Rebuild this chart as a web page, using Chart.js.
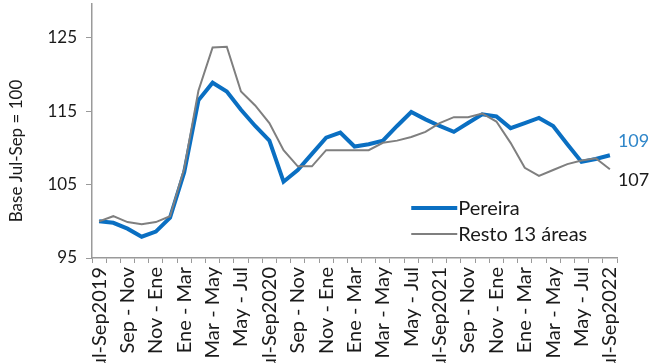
<!DOCTYPE html>
<html>
<head>
<meta charset="utf-8">
<script src="https://cdn.jsdelivr.net/npm/chart.js@4/dist/chart.umd.min.js"></script>
<style>
  html, body { margin: 0; padding: 0; background: #fff; }
  #wrap { position: relative; width: 650px; height: 363px; overflow: hidden; }
  #chart { position: absolute; left: 0; top: -15px; }
</style>
</head>
<body>
<div id="wrap"><canvas id="chart" width="650" height="378"></canvas></div>
<script>
const labels = [
  "Jul-Sep2019", "", "Sep - Nov", "", "Nov - Ene", "", "Ene - Mar", "", "Mar - May", "", "May - Jul", "",
  "Jul-Sep2020", "", "Sep - Nov", "", "Nov - Ene", "", "Ene - Mar", "", "Mar - May", "", "May - Jul", "",
  "Jul-Sep2021", "", "Sep - Nov", "", "Nov - Ene", "", "Ene - Mar", "", "Mar - May", "", "May - Jul", "",
  "Jul-Sep2022"
];

const pereira = [
  100, 99.8, 99.0, 97.9, 98.6, 100.5, 106.7, 116.5, 118.9, 117.7, 115.2, 113.0,
  111.0, 105.4, 107.0, 109.2, 111.4, 112.1, 110.2, 110.5, 111.0, 113.0, 114.9, 113.9,
  113.0, 112.2, 113.4, 114.6, 114.3, 112.7, 113.4, 114.1, 113.0, 110.5, 108.1, 108.5,
  109.0
];

const resto = [
  100, 100.7, 99.9, 99.6, 99.9, 100.7, 107.2, 117.8, 123.7, 123.8, 117.7, 115.8,
  113.4, 109.7, 107.5, 107.5, 109.7, 109.7, 109.7, 109.7, 110.7, 111.0, 111.5, 112.2,
  113.4, 114.2, 114.2, 114.7, 113.6, 110.7, 107.3, 106.2, 107.0, 107.8, 108.3, 108.6,
  107.1
];

const yTicks = [95, 105, 115, 125];
const endLabels = ["109", "107"];
const yTitle = "Base Jul-Sep = 100";

const blue = "#0a6fc2";
const gray = "#7f7f7f";
const axisColor = "#9a9a9a";
const font = "Lato";

// legend, end labels and axis title drawn by hand
const extras = {
  id: "extras",
  afterDatasetsDraw(chart) {
    const ctx = chart.ctx;
    const x = chart.scales.x;
    const y = chart.scales.y;
    const area = chart.chartArea;
    ctx.save();
    ctx.textBaseline = "middle";

    // end labels
    ctx.font = "18px " + font;
    const last = labels.length - 1;
    const ex = x.getPixelForValue(last) + 8;
    ctx.fillStyle = "#2f86c9";
    ctx.fillText(endLabels[0], ex, y.getPixelForValue(pereira[last]) - 14);
    ctx.fillStyle = "#1a1a1a";
    ctx.fillText(endLabels[1], ex, y.getPixelForValue(resto[last]) + 11);

    // legend
    ctx.font = "20px " + font;
    const lx = x.getPixelForValue(22);
    const ly1 = y.getPixelForValue(101.8);
    const ly2 = ly1 + 26;
    ctx.lineCap = "butt";
    ctx.strokeStyle = blue;
    ctx.lineWidth = 4;
    ctx.beginPath(); ctx.moveTo(lx, ly1); ctx.lineTo(lx + 46, ly1); ctx.stroke();
    ctx.strokeStyle = gray;
    ctx.lineWidth = 2;
    ctx.beginPath(); ctx.moveTo(lx, ly2); ctx.lineTo(lx + 46, ly2); ctx.stroke();
    ctx.fillStyle = "#1a1a1a";
    ctx.fillText("Pereira", lx + 47, ly1);
    ctx.fillText("Resto 13 áreas", lx + 47, ly2);

    // y axis title
    ctx.font = "17px " + font;
    ctx.textAlign = "center";
    ctx.translate(17, area.bottom - 107);
    ctx.rotate(-Math.PI / 2);
    ctx.fillText(yTitle, 0, 0);
    ctx.restore();
  }
};

new Chart(document.getElementById("chart"), {
  type: "line",
  data: {
    labels,
    datasets: [
      { label: "Resto 13 áreas", data: resto, borderColor: gray, borderWidth: 2, pointRadius: 0, tension: 0 },
      { label: "Pereira", data: pereira, borderColor: blue, borderWidth: 4, pointRadius: 0, tension: 0 }
    ]
  },
  plugins: [extras],
  options: {
    responsive: false,
    animation: false,
    layout: { padding: { top: 0, right: 33, left: 0, bottom: 0 } },
    plugins: { legend: { display: false }, tooltip: { enabled: false } },
    scales: {
      x: {
        offset: true,
        grid: { drawOnChartArea: false, offset: true, tickLength: 5, color: axisColor, lineWidth: 1 },
        border: { color: axisColor, width: 1.5 },
        ticks: {
          autoSkip: false, maxRotation: 90, minRotation: 90, padding: 4,
          color: "#1a1a1a", font: { family: font, size: 20 }
        },
        afterFit(scale) { scale.height = 105; }
      },
      y: {
        min: 95,
        max: 129.6,
        afterBuildTicks(axis) { axis.ticks = yTicks.map(v => ({ value: v })); },
        grid: { drawOnChartArea: false, tickLength: 6, color: axisColor },
        border: { color: axisColor, width: 1.5 },
        ticks: { color: "#1a1a1a", padding: 9, font: { family: font, size: 17 } },
        afterFit(scale) { scale.width = 92; }
      }
    }
  }
});
</script>
</body>
</html>
